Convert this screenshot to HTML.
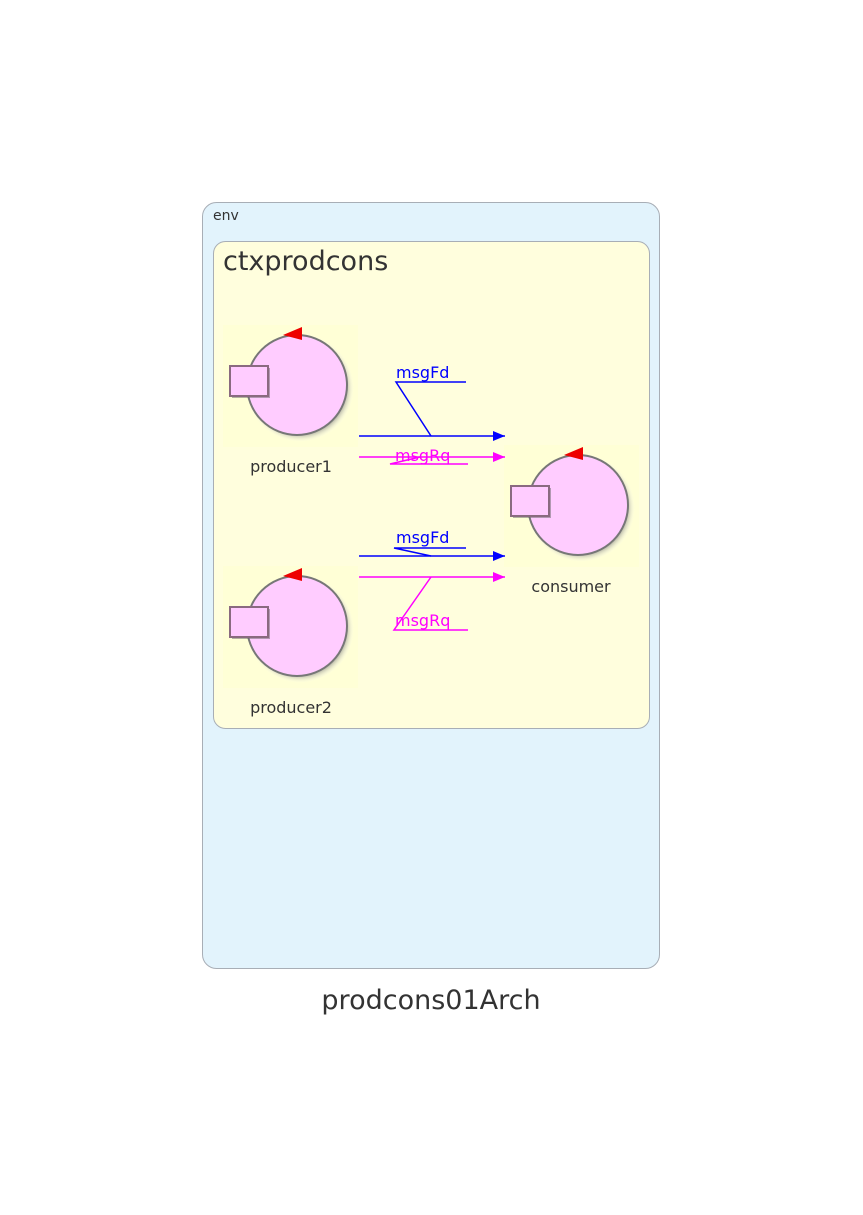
<!DOCTYPE html>
<html><head><meta charset="utf-8"><style>
html,body{margin:0;padding:0;background:#fff;width:863px;height:1215px;overflow:hidden}
text{font-family:"DejaVu Sans","Liberation Sans",sans-serif}
</style></head><body>
<svg width="863" height="1215" viewBox="0 0 863 1215" xmlns="http://www.w3.org/2000/svg">
<defs>
<marker id="ab" markerWidth="12" markerHeight="10" refX="12" refY="5" orient="auto" markerUnits="userSpaceOnUse"><path d="M0,0 L12,5 L0,10 z" fill="#0000ff"/></marker>
<marker id="am" markerWidth="12" markerHeight="10" refX="12" refY="5" orient="auto" markerUnits="userSpaceOnUse"><path d="M0,0 L12,5 L0,10 z" fill="#ff00ff"/></marker>
<radialGradient id="sh" cx="0.5" cy="0.5" r="0.5"><stop offset="0.85" stop-color="#777"/><stop offset="1" stop-color="#fff" stop-opacity="0"/></radialGradient>
<g id="actor">
<rect x="0" y="0" width="135" height="122" fill="#ffffd6"/>
<circle cx="77" cy="63" r="54" fill="url(#sh)" opacity="0.6"/>
<circle cx="74" cy="60" r="50" fill="#ffccff" stroke="#777" stroke-width="2"/>
<rect x="9" y="43" width="38" height="30" fill="#666" opacity="0.5"/>
<rect x="7" y="41" width="38" height="30" fill="#ffccff" stroke="#8a6a80" stroke-width="2"/>
<path d="M60,10 L79,2 L79,15 z" fill="#ee0000"/>
</g>
</defs>
<rect x="202.5" y="202.5" width="457" height="766" rx="14" fill="#e2f3fc" stroke="#a8aeb6"/>
<text x="213" y="220" font-size="14" fill="#333">env</text>
<rect x="213.5" y="241.5" width="436" height="487" rx="12" fill="#fffedd" stroke="#a8aeb6"/>
<text x="223" y="270" font-size="27" fill="#333">ctxprodcons</text>
<use href="#actor" x="223" y="325"/>
<use href="#actor" x="223" y="566"/>
<use href="#actor" x="504" y="445"/>
<text x="291" y="472" font-size="16" fill="#333" text-anchor="middle">producer1</text>
<text x="291" y="713" font-size="16" fill="#333" text-anchor="middle">producer2</text>
<text x="571" y="592" font-size="16" fill="#333" text-anchor="middle">consumer</text>
<g stroke-width="1.5" fill="none">
<line x1="359" y1="436" x2="505" y2="436" stroke="#0000ff" marker-end="url(#ab)"/>
<polyline points="466,382 396,382 431,436" stroke="#0000ff"/>
<line x1="359" y1="457" x2="505" y2="457" stroke="#ff00ff" marker-end="url(#am)"/>
<polyline points="468,464 390,464 420,457" stroke="#ff00ff"/>
<line x1="359" y1="556" x2="505" y2="556" stroke="#0000ff" marker-end="url(#ab)"/>
<polyline points="466,548 394,548 431,556" stroke="#0000ff"/>
<line x1="359" y1="577" x2="505" y2="577" stroke="#ff00ff" marker-end="url(#am)"/>
<polyline points="468,630 394,630 431,577" stroke="#ff00ff"/>
</g>
<text x="396" y="378" font-size="16" fill="#0000ff">msgFd</text>
<text x="395" y="461" font-size="16" fill="#ff00ff">msgRq</text>
<text x="396" y="543" font-size="16" fill="#0000ff">msgFd</text>
<text x="395" y="626" font-size="16" fill="#ff00ff">msgRq</text>
<text x="431" y="1009" font-size="27" fill="#333" text-anchor="middle">prodcons01Arch</text>
</svg>
</body></html>
